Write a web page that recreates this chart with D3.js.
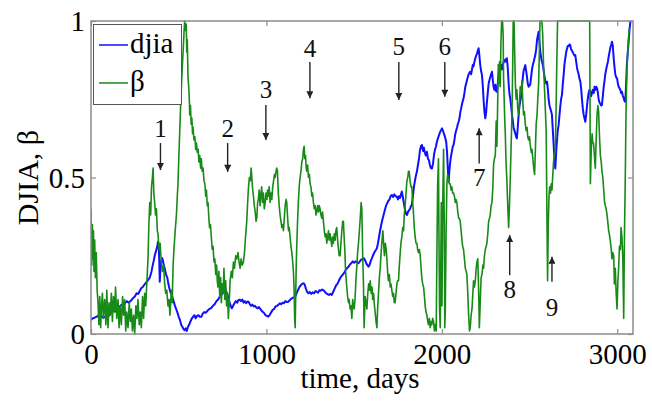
<!DOCTYPE html>
<html><head><meta charset="utf-8">
<script src="https://cdn.jsdelivr.net/npm/d3@7"></script>
<style>
body{margin:0;background:#fff;}
svg{display:block;}
</style>
</head><body>
<svg id="chart" width="652" height="403"></svg>
<script>
// ---------- data ----------
const xTicks = [0, 1000, 2000, 3000];
const yTicks = [0, 0.5, 1];
const yTickLabels = ["0", "0.5", "1"];
const seriesNames = ["djia", "β"];
const xLabel = "time, days";
const yLabel = "DJIA, β";

// [day, normalized DJIA]
const djiaSeries = [
[0,0.045],[10,0.05],[20,0.052],[30,0.055],[40,0.058],[50,0.055],[60,0.058],[70,0.052],[80,0.055],[90,0.05],
[100,0.058],[110,0.065],[120,0.07],[130,0.075],[140,0.072],[150,0.08],[160,0.085],[173,0.093],[185,0.09],[195,0.1],
[205,0.105],[215,0.1],[230,0.108],[240,0.115],[250,0.12],[260,0.13],[270,0.128],[280,0.14],[287,0.147],[295,0.15],
[305,0.158],[315,0.165],[325,0.172],[335,0.18],[345,0.2],[352,0.22],[358,0.235],[363,0.25],[368,0.26],[373,0.27],
[378,0.28],[382,0.295],[386,0.28],[389,0.24],[392,0.167],[395,0.2],[400,0.23],[405,0.243],[410,0.235],[415,0.22],
[420,0.21],[428,0.19],[435,0.18],[439,0.167],[445,0.15],[452,0.135],[460,0.125],[468,0.11],[477,0.093],[485,0.08],
[492,0.07],[500,0.055],[507,0.045],[515,0.029],[522,0.022],[528,0.015],[534,0.012],[540,0.018],[546,0.01],[553,0.023],
[560,0.03],[567,0.04],[575,0.05],[582,0.055],[590,0.06],[597,0.05],[605,0.058],[612,0.06],[620,0.055],[629,0.055],
[637,0.065],[645,0.07],[655,0.068],[665,0.075],[675,0.08],[686,0.083],[695,0.09],[705,0.095],[715,0.105],[725,0.11],
[735,0.12],[743,0.125],[752,0.13],[760,0.135],[768,0.14],[775,0.13],[782,0.118],[790,0.1],[797,0.09],[803,0.082],
[810,0.09],[818,0.098],[825,0.105],[833,0.1],[840,0.108],[848,0.11],[855,0.105],[863,0.11],[870,0.1],[878,0.105],
[885,0.098],[892,0.104],[898,0.103],[906,0.095],[913,0.09],[920,0.094],[928,0.088],[935,0.09],[942,0.085],[950,0.082],
[958,0.086],[965,0.08],[972,0.075],[980,0.07],[988,0.066],[995,0.06],[1003,0.058],[1011,0.055],[1020,0.062],[1028,0.07],
[1036,0.077],[1044,0.08],[1052,0.088],[1060,0.09],[1068,0.093],[1076,0.098],[1084,0.095],[1092,0.1],[1100,0.098],[1108,0.105],
[1116,0.102],[1125,0.103],[1133,0.108],[1140,0.112],[1148,0.115],[1156,0.117],[1164,0.119],[1172,0.13],[1180,0.14],[1188,0.15],
[1195,0.155],[1203,0.16],[1211,0.162],[1218,0.158],[1225,0.145],[1232,0.135],[1240,0.13],[1248,0.134],[1256,0.128],[1264,0.133],
[1272,0.13],[1280,0.137],[1287,0.135],[1295,0.132],[1302,0.14],[1310,0.138],[1318,0.142],[1325,0.14],[1333,0.135],[1341,0.13],
[1349,0.127],[1357,0.125],[1365,0.128],[1373,0.125],[1381,0.135],[1389,0.145],[1397,0.155],[1405,0.16],[1413,0.17],[1420,0.178],
[1428,0.185],[1436,0.19],[1444,0.196],[1452,0.205],[1460,0.21],[1468,0.215],[1476,0.222],[1484,0.226],[1492,0.232],[1500,0.228],
[1508,0.232],[1516,0.229],[1525,0.226],[1533,0.232],[1541,0.238],[1549,0.24],[1556,0.242],[1563,0.235],[1570,0.225],[1576,0.22],
[1582,0.215],[1588,0.22],[1594,0.232],[1600,0.24],[1607,0.25],[1613,0.258],[1620,0.265],[1626,0.27],[1630,0.274],[1636,0.29],
[1642,0.31],[1648,0.33],[1655,0.35],[1661,0.365],[1668,0.38],[1675,0.395],[1682,0.41],[1689,0.418],[1695,0.425],[1702,0.43],
[1708,0.44],[1715,0.444],[1722,0.438],[1729,0.446],[1736,0.44],[1744,0.439],[1750,0.43],[1756,0.44],[1762,0.435],[1767,0.445],
[1772,0.455],[1777,0.44],[1783,0.42],[1789,0.4],[1795,0.385],[1801,0.38],[1807,0.39],[1813,0.395],[1819,0.4],[1825,0.41],
[1829,0.412],[1835,0.44],[1841,0.47],[1847,0.49],[1852,0.505],[1858,0.519],[1864,0.54],[1870,0.56],[1875,0.585],[1881,0.6],
[1887,0.604],[1893,0.585],[1898,0.595],[1903,0.58],[1909,0.57],[1915,0.582],[1921,0.56],[1927,0.555],[1932,0.54],[1938,0.53],
[1944,0.529],[1950,0.545],[1956,0.575],[1962,0.59],[1967,0.6],[1972,0.614],[1978,0.625],[1984,0.635],[1990,0.645],[1995,0.65],
[2001,0.657],[2006,0.65],[2012,0.64],[2018,0.63],[2025,0.614],[2030,0.58],[2035,0.52],[2039,0.487],[2043,0.52],[2048,0.55],
[2053,0.57],[2058,0.585],[2063,0.6],[2067,0.604],[2072,0.62],[2077,0.64],[2082,0.65],[2087,0.66],[2091,0.67],[2096,0.678],
[2101,0.69],[2106,0.71],[2110,0.72],[2115,0.735],[2120,0.745],[2124,0.753],[2129,0.77],[2134,0.79],[2139,0.8],[2143,0.81],
[2148,0.82],[2153,0.83],[2158,0.835],[2162,0.838],[2167,0.83],[2172,0.845],[2177,0.86],[2181,0.855],[2186,0.87],[2191,0.881],
[2196,0.89],[2200,0.895],[2205,0.905],[2210,0.913],[2214,0.89],[2219,0.86],[2224,0.84],[2229,0.827],[2234,0.79],[2238,0.75],
[2243,0.71],[2248,0.689],[2253,0.71],[2257,0.74],[2262,0.77],[2267,0.8],[2271,0.81],[2276,0.82],[2281,0.83],[2286,0.838],
[2291,0.81],[2295,0.79],[2300,0.78],[2305,0.796],[2310,0.775],[2314,0.774],[2319,0.8],[2324,0.83],[2329,0.85],[2333,0.859],
[2338,0.86],[2343,0.845],[2348,0.86],[2352,0.87],[2357,0.875],[2362,0.87],[2366,0.878],[2371,0.881],[2376,0.85],[2381,0.8],
[2385,0.77],[2390,0.753],[2395,0.73],[2400,0.7],[2405,0.68],[2409,0.66],[2414,0.65],[2419,0.64],[2424,0.63],[2428,0.625],
[2433,0.66],[2438,0.7],[2443,0.73],[2447,0.742],[2452,0.76],[2457,0.79],[2462,0.82],[2466,0.84],[2471,0.85],[2476,0.859],
[2481,0.84],[2486,0.82],[2490,0.8],[2495,0.79],[2500,0.795],[2504,0.796],[2509,0.82],[2514,0.845],[2519,0.86],[2524,0.87],
[2528,0.88],[2533,0.891],[2538,0.91],[2543,0.94],[2548,0.955],[2552,0.966],[2557,0.93],[2562,0.9],[2567,0.88],[2571,0.87],
[2576,0.86],[2581,0.84],[2586,0.82],[2590,0.81],[2595,0.8],[2600,0.806],[2605,0.78],[2609,0.75],[2614,0.73],[2619,0.72],
[2624,0.71],[2628,0.7],[2633,0.65],[2638,0.6],[2643,0.55],[2647,0.529],[2652,0.58],[2657,0.62],[2661,0.65],[2666,0.668],
[2671,0.7],[2676,0.73],[2680,0.75],[2685,0.764],[2690,0.8],[2695,0.83],[2699,0.86],[2704,0.881],[2709,0.9],[2713,0.91],
[2718,0.92],[2723,0.92],[2728,0.925],[2732,0.923],[2737,0.91],[2742,0.905],[2747,0.9],[2751,0.895],[2756,0.89],[2761,0.891],
[2766,0.87],[2771,0.85],[2775,0.84],[2780,0.83],[2785,0.815],[2790,0.806],[2795,0.78],[2799,0.75],[2804,0.72],[2809,0.7],
[2813,0.69],[2818,0.678],[2823,0.7],[2828,0.73],[2832,0.75],[2837,0.77],[2842,0.78],[2847,0.774],[2852,0.76],[2856,0.77],
[2861,0.78],[2866,0.77],[2871,0.79],[2875,0.78],[2880,0.79],[2885,0.785],[2890,0.77],[2894,0.75],[2899,0.74],[2904,0.735],
[2909,0.73],[2913,0.732],[2918,0.76],[2923,0.79],[2928,0.81],[2932,0.83],[2937,0.845],[2942,0.859],[2947,0.87],[2951,0.885],
[2956,0.9],[2961,0.915],[2966,0.925],[2970,0.934],[2975,0.92],[2980,0.88],[2985,0.85],[2989,0.83],[2994,0.82],[2999,0.817],
[3004,0.8],[3008,0.79],[3013,0.785],[3018,0.78],[3022,0.77],[3027,0.774],[3032,0.76],[3037,0.755],[3041,0.745],[3046,0.742],
[3050,0.79],[3055,0.86],[3059,0.89],[3062,0.913],[3066,0.94],[3070,0.97],[3075,0.998]
];

// [day, beta]
const betaSeries = [
[0,0.4],[5,0.22],[8,0.35],[11,0.24],[14,0.33],[17,0.2],[21,0.3],[25,0.18],[30,0.26],[35,0.14],
[40,0.1],[45,0.03],[50,0.12],[55,0.02],[59,0.08],[65,0.13],[70,0.05],[78,0.11],[85,0.03],[90,0.14],
[97,0.02],[103,0.1],[110,0.06],[116,0.13],[122,0.04],[128,0.12],[135,0.07],[140,0.15],[147,0.05],[154,0.11],
[160,0.02],[166,0.09],[173,0.03],[180,0.12],[186,0.06],[192,0.11],[198,0.01],[204,0.07],[211,0.02],[218,0.1],
[224,0.04],[230,0.08],[236,0.01],[243,0.06],[249,0.0],[256,0.09],[262,0.05],[268,0.11],[275,0.03],[281,0.07],
[287,0.02],[294,0.12],[300,0.05],[306,0.13],[312,0.09],[318,0.16],[325,0.24],[330,0.35],[335,0.42],[340,0.38],
[345,0.47],[350,0.5],[354,0.53],[358,0.45],[363,0.42],[368,0.38],[373,0.4],[378,0.33],[382,0.32],[388,0.27],
[394,0.29],[401,0.23],[407,0.2],[414,0.22],[420,0.16],[426,0.13],[432,0.14],[439,0.09],[445,0.11],[450,0.06],
[458,0.14],[463,0.1],[468,0.22],[474,0.28],[480,0.33],[487,0.38],[492,0.44],[496,0.48],[501,0.57],[506,0.65],
[511,0.73],[516,0.8],[521,0.86],[525,0.9],[530,0.96],[534,1.0],[539,0.97],[543,0.99],[546,0.9],[549,0.94],
[553,0.82],[557,0.79],[560,0.76],[563,0.7],[567,0.73],[571,0.67],[575,0.69],[579,0.64],[582,0.66],[587,0.62],
[592,0.63],[597,0.59],[601,0.61],[606,0.58],[611,0.59],[615,0.55],[620,0.57],[625,0.53],[629,0.56],[634,0.52],
[639,0.53],[644,0.49],[649,0.48],[654,0.44],[658,0.46],[663,0.41],[667,0.42],[672,0.37],[676,0.34],[681,0.35],
[686,0.31],[691,0.27],[696,0.28],[701,0.23],[706,0.24],[711,0.19],[716,0.22],[720,0.17],[724,0.15],[729,0.2],
[734,0.12],[739,0.18],[743,0.1],[748,0.16],[753,0.13],[758,0.21],[763,0.11],[768,0.17],[773,0.09],[778,0.13],
[783,0.05],[788,0.1],[793,0.17],[800,0.2],[806,0.18],[812,0.23],[818,0.21],[825,0.25],[831,0.24],[838,0.26],
[844,0.23],[850,0.21],[856,0.24],[862,0.22],[869,0.23],[875,0.26],[881,0.31],[888,0.36],[893,0.42],[898,0.47],
[903,0.5],[908,0.49],[913,0.53],[918,0.49],[922,0.46],[926,0.44],[931,0.41],[936,0.39],[941,0.36],[945,0.37],
[950,0.42],[954,0.43],[959,0.46],[964,0.41],[968,0.44],[973,0.47],[978,0.42],[983,0.45],[988,0.4],[993,0.42],
[998,0.45],[1003,0.43],[1007,0.46],[1011,0.44],[1016,0.47],[1021,0.42],[1026,0.45],[1031,0.43],[1036,0.47],[1041,0.49],
[1046,0.51],[1050,0.5],[1055,0.52],[1059,0.53],[1063,0.52],[1068,0.45],[1073,0.41],[1078,0.38],[1083,0.36],[1088,0.34],
[1093,0.35],[1097,0.33],[1102,0.37],[1107,0.41],[1112,0.43],[1116,0.42],[1121,0.37],[1126,0.33],[1130,0.34],[1135,0.31],
[1140,0.28],[1145,0.26],[1150,0.23],[1154,0.2],[1158,0.14],[1161,0.05],[1164,0.02],[1167,0.12],[1170,0.22],[1173,0.28],
[1177,0.35],[1182,0.42],[1187,0.47],[1192,0.5],[1197,0.52],[1202,0.55],[1207,0.56],[1211,0.59],[1215,0.6],[1219,0.56],
[1223,0.57],[1227,0.53],[1230,0.52],[1235,0.54],[1240,0.5],[1245,0.51],[1249,0.48],[1254,0.47],[1259,0.44],[1263,0.45],
[1268,0.42],[1273,0.4],[1278,0.41],[1283,0.38],[1287,0.39],[1292,0.41],[1297,0.39],[1301,0.41],[1306,0.4],[1311,0.38],
[1316,0.37],[1320,0.39],[1325,0.36],[1330,0.33],[1335,0.31],[1340,0.32],[1344,0.29],[1349,0.31],[1354,0.33],[1358,0.3],
[1363,0.32],[1368,0.3],[1373,0.28],[1377,0.31],[1382,0.29],[1387,0.32],[1392,0.3],[1396,0.33],[1401,0.34],[1406,0.3],
[1411,0.27],[1415,0.25],[1420,0.25],[1425,0.29],[1430,0.33],[1435,0.36],[1439,0.36],[1443,0.31],[1447,0.27],[1450,0.22],
[1453,0.19],[1458,0.15],[1463,0.12],[1468,0.1],[1472,0.11],[1477,0.08],[1482,0.09],[1487,0.05],[1492,0.11],[1496,0.09],
[1501,0.08],[1506,0.12],[1511,0.18],[1516,0.22],[1520,0.26],[1525,0.29],[1530,0.33],[1535,0.37],[1540,0.42],[1544,0.4],
[1549,0.25],[1553,0.17],[1557,0.02],[1563,0.12],[1568,0.1],[1573,0.08],[1578,0.13],[1583,0.16],[1587,0.14],[1592,0.17],
[1597,0.13],[1602,0.15],[1606,0.11],[1611,0.13],[1616,0.09],[1620,0.07],[1625,0.04],[1630,0.02],[1634,0.08],[1639,0.13],
[1644,0.18],[1649,0.21],[1654,0.26],[1659,0.3],[1664,0.33],[1668,0.29],[1673,0.25],[1678,0.29],[1683,0.27],[1688,0.23],
[1692,0.19],[1696,0.17],[1701,0.19],[1706,0.15],[1710,0.16],[1715,0.14],[1720,0.12],[1725,0.13],[1729,0.1],[1734,0.1],
[1739,0.13],[1744,0.16],[1748,0.17],[1753,0.17],[1758,0.22],[1763,0.26],[1767,0.29],[1772,0.31],[1777,0.34],[1782,0.33],
[1786,0.38],[1791,0.41],[1796,0.45],[1801,0.49],[1806,0.5],[1810,0.52],[1814,0.52],[1819,0.49],[1824,0.47],[1829,0.47],
[1834,0.42],[1838,0.39],[1843,0.34],[1848,0.31],[1853,0.29],[1858,0.29],[1862,0.27],[1867,0.26],[1872,0.27],[1877,0.25],
[1882,0.21],[1886,0.18],[1891,0.16],[1896,0.15],[1901,0.12],[1905,0.09],[1910,0.07],[1915,0.06],[1920,0.04],[1924,0.03],
[1929,0.05],[1934,0.02],[1939,0.04],[1943,0.03],[1948,0.05],[1953,0.04],[1958,0.01],[1963,0.03],[1968,0.01],[1972,0.25],
[1976,0.47],[1981,0.56],[1984,0.3],[1987,0.08],[1991,0.02],[1994,0.2],[1997,0.42],[2001,0.09],[2005,0.4],[2010,0.59],
[2014,0.35],[2017,0.02],[2020,0.08],[2024,0.3],[2029,0.48],[2033,0.51],[2038,0.49],[2043,0.48],[2048,0.48],[2053,0.46],
[2057,0.47],[2062,0.45],[2067,0.45],[2072,0.44],[2077,0.42],[2081,0.43],[2086,0.42],[2091,0.39],[2096,0.37],[2100,0.37],
[2105,0.36],[2110,0.33],[2115,0.3],[2119,0.28],[2124,0.27],[2129,0.24],[2134,0.21],[2139,0.2],[2143,0.19],[2148,0.13],
[2153,0.06],[2158,0.01],[2162,0.02],[2167,0.06],[2172,0.08],[2176,0.12],[2181,0.17],[2186,0.15],[2191,0.17],[2196,0.21],
[2200,0.23],[2205,0.24],[2210,0.14],[2214,0.02],[2219,0.1],[2224,0.18],[2229,0.19],[2234,0.22],[2238,0.21],[2243,0.25],
[2248,0.27],[2253,0.28],[2257,0.29],[2262,0.32],[2267,0.36],[2272,0.37],[2276,0.38],[2281,0.41],[2286,0.42],[2291,0.47],
[2295,0.54],[2300,0.56],[2305,0.57],[2310,0.68],[2314,0.6],[2318,0.72],[2322,0.86],[2326,0.8],[2329,0.87],[2333,0.79],
[2337,0.93],[2341,1.0],[2346,1.0],[2350,0.95],[2352,0.82],[2356,0.74],[2359,0.68],[2362,0.64],[2366,0.55],[2371,0.49],
[2374,0.44],[2378,0.38],[2381,0.34],[2385,0.4],[2390,0.49],[2395,0.6],[2400,0.7],[2404,0.85],[2407,1.0],[2412,1.0],
[2416,0.88],[2420,0.79],[2424,0.75],[2428,0.78],[2433,0.72],[2438,0.7],[2443,0.74],[2447,0.79],[2452,0.77],[2457,0.81],
[2462,0.74],[2466,0.7],[2471,0.71],[2476,0.67],[2481,0.65],[2486,0.66],[2490,0.63],[2495,0.62],[2500,0.63],[2505,0.6],
[2510,0.58],[2514,0.59],[2519,0.56],[2524,0.53],[2529,0.51],[2533,0.58],[2538,0.67],[2543,0.7],[2548,0.76],[2552,0.8],
[2556,0.9],[2560,1.0],[2565,1.0],[2570,1.0],[2575,0.96],[2580,0.86],[2585,0.79],[2590,0.72],[2595,0.65],[2599,0.4],
[2603,0.17],[2607,0.35],[2611,0.44],[2615,0.47],[2620,0.45],[2624,0.48],[2628,0.46],[2632,0.5],[2637,0.55],[2642,0.57],
[2647,0.59],[2651,0.7],[2656,0.88],[2660,1.0],[2700,1.0],[2750,1.0],[2800,1.0],[2843,1.0],[2847,0.48],[2852,0.59],
[2857,0.64],[2861,0.61],[2865,0.61],[2870,0.57],[2875,0.53],[2880,0.62],[2885,0.7],[2890,0.73],[2894,0.71],[2899,0.63],
[2904,0.57],[2909,0.55],[2913,0.52],[2918,0.5],[2923,0.46],[2928,0.42],[2932,0.41],[2937,0.4],[2942,0.38],[2946,0.36],
[2951,0.33],[2955,0.32],[2960,0.3],[2966,0.27],[2970,0.24],[2975,0.26],[2980,0.25],[2984,0.16],[2989,0.21],[2994,0.13],
[2999,0.08],[3004,0.17],[3008,0.21],[3013,0.28],[3018,0.27],[3022,0.34],[3027,0.31],[3032,0.24],[3037,0.05],[3041,0.3],
[3046,0.5],[3050,0.7],[3056,0.86],[3060,0.9],[3065,0.95],[3070,0.98]
];

// annotation arrows: label, day, arrow tip value, arrow tail value, label baseline value
const annoLabels = ["1","2","3","4","5","6","7","8","9"];
const annoDays   = [396, 779, 997, 1248, 1755, 2017, 2213, 2387, 2628];
const annoTip    = [0.524, 0.518, 0.620, 0.753, 0.748, 0.758, 0.657, 0.316, 0.247];
const annoTail   = [0.610, 0.610, 0.732, 0.869, 0.869, 0.869, 0.545, 0.188, 0.167];
const annoText   = [0.629, 0.630, 0.754, 0.886, 0.891, 0.891, 0.473, 0.115, 0.0575];

// ---------- layout ----------
const FONT = "Liberation Serif";
const W = 652, H = 403;
const m = {left: 91, right: 19, top: 21, bottom: 69};
const pw = W - m.left - m.right, ph = H - m.top - m.bottom;

const svg = d3.select("#chart");
const x = d3.scaleLinear().domain([0, 3090]).range([m.left, m.left + pw]);
const y = d3.scaleLinear().domain([0, 1]).range([m.top + ph, m.top]);

const axisColor = "#8c8c8c";
const tickLen = 5;

const defs = svg.append("defs");
defs.append("clipPath").attr("id", "clip")
  .append("rect").attr("x", m.left).attr("y", m.top - 1).attr("width", pw).attr("height", ph + 2);
defs.append("marker")
  .attr("id", "arrow").attr("viewBox", "0 0 10 10").attr("refX", 10).attr("refY", 5)
  .attr("markerWidth", 9).attr("markerHeight", 7).attr("markerUnits", "userSpaceOnUse")
  .attr("orient", "auto")
  .append("path").attr("d", "M0,0 L10,5 L0,10 z").attr("fill", "#222");

// series
const line = d3.line().x(d => x(d[0])).y(d => y(d[1]));
const plotG = svg.append("g").attr("clip-path", "url(#clip)");
plotG.append("path").datum(djiaSeries).attr("d", line)
  .attr("fill", "none").attr("stroke", "#1010ff").attr("stroke-width", 2).attr("stroke-linejoin", "round");
plotG.append("path").datum(betaSeries).attr("d", line)
  .attr("fill", "none").attr("stroke", "#188a18").attr("stroke-width", 1.6).attr("stroke-linejoin", "round");

// box
svg.append("rect").attr("x", m.left).attr("y", m.top).attr("width", pw).attr("height", ph)
  .attr("fill", "none").attr("stroke", axisColor).attr("stroke-width", 1.5);

// axes via d3 axis (inward ticks)
const xAxisB = d3.axisBottom(x).tickValues(xTicks).tickSize(-tickLen).tickPadding(14).tickFormat(d3.format("d"));
const gxb = svg.append("g").attr("transform", `translate(0,${m.top + ph})`).call(xAxisB)
  .attr("font-family", FONT).attr("font-size", 29);
gxb.select(".domain").remove();
gxb.selectAll("line").attr("stroke", axisColor).attr("stroke-width", 1.2);
gxb.selectAll("text").style("font-family", FONT).style("font-size", "29px").attr("fill", "#000")
  .attr("dy", null).attr("y", 30);

const xAxisT = d3.axisTop(x).tickValues(xTicks).tickSize(-tickLen).tickFormat("");
const gxt = svg.append("g").attr("transform", `translate(0,${m.top})`).call(xAxisT);
gxt.select(".domain").remove();
gxt.selectAll("line").attr("stroke", axisColor).attr("stroke-width", 1.2);

const yAxisL = d3.axisLeft(y).tickValues(yTicks).tickSize(-tickLen).tickPadding(8)
  .tickFormat((d, i) => yTickLabels[i]);
const gyl = svg.append("g").attr("transform", `translate(${m.left},0)`).call(yAxisL)
  .attr("font-family", FONT).attr("font-size", 29);
gyl.select(".domain").remove();
gyl.selectAll("line").attr("stroke", axisColor).attr("stroke-width", 1.2);
gyl.selectAll("text").style("font-family", FONT).style("font-size", "29px").attr("fill", "#000")
  .attr("dy", "0.34em").attr("x", -6);

const yAxisR = d3.axisRight(y).tickValues(yTicks).tickSize(-tickLen).tickFormat("");
const gyr = svg.append("g").attr("transform", `translate(${m.left + pw},0)`).call(yAxisR);
gyr.select(".domain").remove();
gyr.selectAll("line").attr("stroke", axisColor).attr("stroke-width", 1.2);

// axis labels
svg.append("text").attr("x", m.left + pw / 2 - 2).attr("y", 388).attr("text-anchor", "middle")
  .style("font-family", FONT).style("font-size", "29px").text(xLabel);
svg.append("text").attr("transform", `translate(38,${m.top + ph / 2}) rotate(-90)`)
  .attr("text-anchor", "middle").style("font-family", FONT).style("font-size", "30px").text(yLabel);

// annotations
annoLabels.forEach((lab, i) => {
  svg.append("line")
    .attr("x1", x(annoDays[i])).attr("x2", x(annoDays[i]))
    .attr("y1", y(annoTail[i])).attr("y2", y(annoTip[i]))
    .attr("stroke", "#222").attr("stroke-width", 1.4).attr("marker-end", "url(#arrow)");
  svg.append("text").attr("x", x(annoDays[i])).attr("y", y(annoText[i]))
    .attr("text-anchor", "middle").style("font-family", FONT).style("font-size", "25px")
    .attr("fill", "#111").text(lab);
});

// legend
const lg = svg.append("g");
lg.append("rect").attr("x", 93.5).attr("y", 24.5).attr("width", 88).attr("height", 80)
  .attr("fill", "#fff").attr("stroke", "#555").attr("stroke-width", 1);
const legColors = ["#1010ff", "#188a18"];
seriesNames.forEach((name, i) => {
  const cy = 45 + i * 38;
  lg.append("line").attr("x1", 99).attr("x2", 128).attr("y1", cy).attr("y2", cy)
    .attr("stroke", legColors[i]).attr("stroke-width", 1.5);
  lg.append("text").attr("x", 130).attr("y", cy + 8).style("font-family", FONT)
    .style("font-size", "29px").text(name);
});
</script>
</body></html>
